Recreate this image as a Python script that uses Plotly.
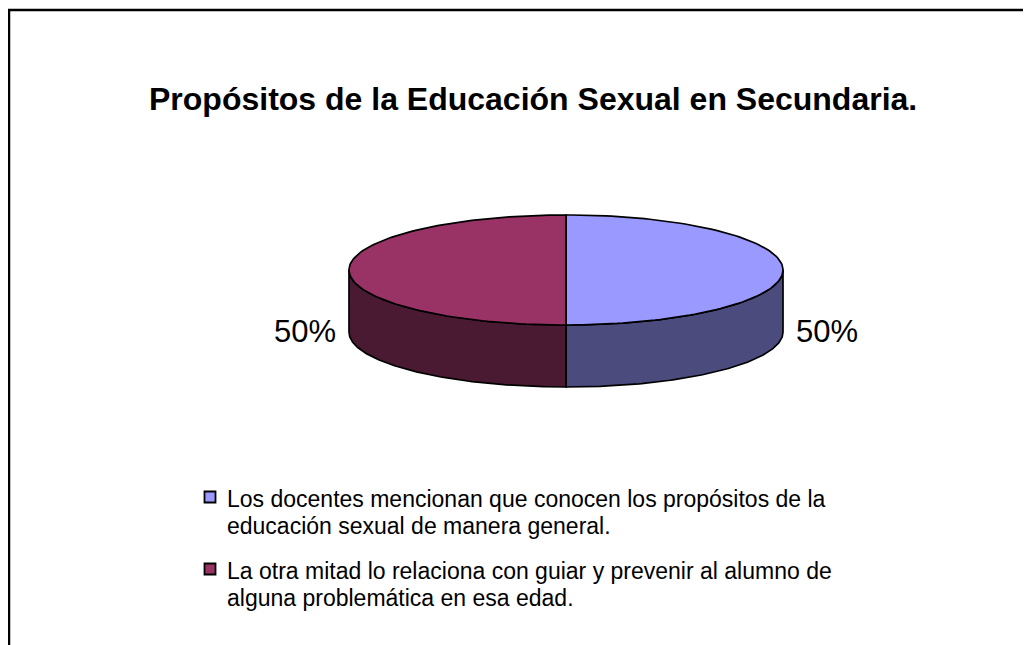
import numpy as np
import plotly.graph_objects as go

# ---- data ----
title_text = "Propósitos de la Educación Sexual en Secundaria."
categories = [
    "Los docentes mencionan que conocen los propósitos de la<br>educación sexual de manera general.",
    "La otra mitad lo relaciona con guiar y prevenir al alumno de<br>alguna problemática en esa edad.",
]
values = [50, 50]

# ---- style ----
top_colors = ["#9999FF", "#993366"]
side_colors = ["#4B4B7E", "#4A1A33"]
FONT = "Liberation Sans, Arial, sans-serif"
W, H = 1031, 645
OFF = 8  # page body margin; axis ranges shifted so units equal screen pixels
cx, cy, a, b, depth = 566, 270, 217, 55, 62


def pt(t, dy=0.0):
    r = np.radians(t)
    return cx + a * np.cos(r), cy - b * np.sin(r) + dy


def arc(t_from, t_to, n=120, dy=0.0):
    ts = np.linspace(t_from, t_to, n)
    xs, ys = pt(ts, dy)
    return list(xs), list(ys)


fig = go.Figure()

total = float(sum(values))
starts, ends = [], []
t = 90.0
for v in values:
    t_end = t - v / total * 360.0
    starts.append(t)
    ends.append(t_end)
    t = t_end

# side faces (front half only)
for i, (t0, t1) in enumerate(zip(starts, ends)):
    for k in (-1, 0, 1):
        lo_f, hi_f = k * 360 - 180, k * 360
        lo, hi = max(t1, lo_f), min(t0, hi_f)
        if hi - lo <= 1e-9:
            continue
        xs1, ys1 = arc(hi, lo)
        xs2, ys2 = arc(lo, hi, dy=depth)
        fig.add_trace(go.Scatter(
            x=xs1 + xs2 + [xs1[0]], y=ys1 + ys2 + [ys1[0]],
            mode="lines", fill="toself", fillcolor=side_colors[i],
            line=dict(color="black", width=1.7), hoverinfo="skip", showlegend=False))

# top faces
for i, (t0, t1) in enumerate(zip(starts, ends)):
    xs, ys = arc(t0, t1)
    fig.add_trace(go.Scatter(
        x=[cx] + xs + [cx], y=[cy] + ys + [cy],
        mode="lines", fill="toself", fillcolor=top_colors[i],
        line=dict(color="black", width=1.7), hoverinfo="skip", showlegend=False))

# percentage labels
for i, (t0, t1) in enumerate(zip(starts, ends)):
    mid = (t0 + t1) / 2.0
    c = np.cos(np.radians(mid))
    lx = cx + (a + 11) * c
    ly = cy + 61
    fig.add_annotation(
        x=lx, y=ly, xref="x", yref="y",
        text=f"{values[i] / total * 100:.0f}%",
        showarrow=False, xanchor="left" if c >= 0 else "right", yanchor="middle",
        font=dict(family=FONT, size=31, color="black"))

# legend
leg_x, leg_y0, leg_dy, line_dy = 210, 497, 72, 27
fig.add_trace(go.Scatter(
    x=[leg_x] * len(categories),
    y=[leg_y0 + i * leg_dy for i in range(len(categories))],
    mode="markers",
    marker=dict(symbol="square", size=11, color=top_colors,
                line=dict(color="black", width=1.8)),
    hoverinfo="skip", showlegend=False))
for i, cat in enumerate(categories):
    for j, line in enumerate(cat.split("<br>")):
        fig.add_annotation(
            x=leg_x + 15, y=leg_y0 + i * leg_dy + j * line_dy + 2, xref="x", yref="y",
            text=line, showarrow=False, xanchor="left", yanchor="middle", align="left",
            font=dict(family=FONT, size=23, color="black"))

# title
fig.add_annotation(
    x=533, y=99, xref="x", yref="y", text=f"<b>{title_text}</b>",
    showarrow=False, xanchor="center", yanchor="middle",
    font=dict(family=FONT, size=32, color="black"))

# chart frame (top and left edges visible)
fig.add_shape(type="line", x0=8, y0=10, x1=W + 20, y1=10, xref="x", yref="y",
              line=dict(color="black", width=2.5))
fig.add_shape(type="line", x0=9, y0=9, x1=9, y1=H + 20, xref="x", yref="y",
              line=dict(color="black", width=2.5))

fig.update_layout(
    width=W, height=H,
    margin=dict(l=0, r=0, t=0, b=0),
    paper_bgcolor="white", plot_bgcolor="white",
    xaxis=dict(range=[OFF, W + OFF], visible=False, fixedrange=True),
    yaxis=dict(range=[H + OFF, OFF], visible=False, fixedrange=True),
    showlegend=False,
)

fig.write_html("out.html")
